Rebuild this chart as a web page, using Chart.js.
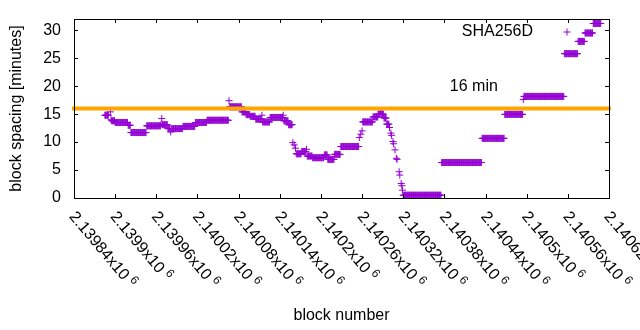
<!DOCTYPE html>
<html>
<head>
<meta charset="utf-8">
<script src="https://cdn.jsdelivr.net/npm/chart.js@4/dist/chart.umd.min.js"></script>
<style>
  html, body { margin: 0; padding: 0; background: #fff; }
  #spacing_chart { display: block; }
</style>
</head>
<body>
<canvas id="spacing_chart" width="640" height="330"></canvas>
<script>
// x range and ticks (block heights)
var block_min = 2139840;
var block_max = 2140620;
var block_tick_step = 60;

// y range and ticks (minutes)
var minutes_min = 0;
var minutes_max = 32;
var minutes_tick_step = 5;

var series_name = "SHA256D";

// runs of blocks: first block, last block, spacing in minutes
var run_first = [
    2139885, 2139893, 2139894, 2139895, 2139900, 2139919, 2139923, 2139946, 2139967, 2139968,
    2139969, 2139977, 2139981, 2139982, 2139999, 2140017, 2140034, 2140066, 2140067, 2140085,
    2140091, 2140097, 2140105, 2140114, 2140115, 2140126, 2140145, 2140146, 2140153, 2140159,
    2140161, 2140163, 2140164, 2140172, 2140179, 2140180, 2140188, 2140205, 2140210, 2140220,
    2140229, 2140256, 2140258, 2140260, 2140261, 2140276, 2140284, 2140287, 2140288, 2140292,
    2140296, 2140300, 2140302, 2140303, 2140305, 2140306, 2140308, 2140310, 2140311, 2140314,
    2140315, 2140317, 2140318, 2140319, 2140320, 2140376, 2140435, 2140468, 2140495, 2140496,
    2140555, 2140575, 2140585, 2140597
];
var run_last = [
    2139890, 2139893, 2139894, 2139899, 2139918, 2139922, 2139945, 2139966, 2139967, 2139968,
    2139976, 2139980, 2139981, 2139998, 2140016, 2140033, 2140065, 2140066, 2140084, 2140090,
    2140096, 2140104, 2140113, 2140114, 2140125, 2140144, 2140145, 2140152, 2140158, 2140159,
    2140161, 2140163, 2140171, 2140178, 2140179, 2140187, 2140204, 2140209, 2140219, 2140228,
    2140255, 2140256, 2140258, 2140260, 2140275, 2140283, 2140286, 2140287, 2140291, 2140295,
    2140299, 2140300, 2140302, 2140303, 2140305, 2140306, 2140308, 2140310, 2140311, 2140314,
    2140315, 2140317, 2140318, 2140319, 2140375, 2140434, 2140467, 2140494, 2140495, 2140554,
    2140574, 2140584, 2140596, 2140608
];
var run_minutes = [
    14.8, 15.4, 14.0, 13.8, 13.5, 13.0, 11.7, 12.9, 13.2, 14.2,
    13.1, 12.4, 11.8, 12.4, 12.8, 13.5, 13.9, 17.4, 16.3, 15.4,
    14.9, 14.6, 14.1, 14.8, 13.6, 14.4, 14.8, 13.8, 13.1, 9.9,
    9.5, 8.9, 7.9, 8.3, 8.7, 7.5, 7.2, 7.7, 6.9, 7.8,
    9.2, 10.8, 11.4, 12.0, 13.6, 14.5, 15.0, 15.4, 15.0, 14.3,
    13.2, 12.6, 11.6, 11.2, 10.1, 9.7, 8.6, 7.1, 6.9, 4.7,
    4.1, 2.6, 2.2, 1.4, 0.5, 6.34, 10.66, 14.95, 17.6, 18.16,
    25.8, 28.0, 29.5, 31.2
];

// 16 minute target line and its label
var target_minutes = 16;
var target_text = "16 min";
var target_text_block = 2140388;
var target_text_minutes = 20;

var purple = "#9400D3";
var orange = "#FFA500";
var font_family = '"Liberation Sans", Arial, sans-serif';

var chart_points = [];

function buildSpacingData() {
    for (var i = 0; i < run_first.length; i++) {
        for (var b = run_first[i]; b <= run_last[i]; b++) {
            chart_points.push({ x: b, y: run_minutes[i] });
        }
    }
}

function tickMantissa(v) {
    return Number((v / 1e6).toFixed(5)).toString();
}

// gnuplot look: closed frame, inward ticks on all sides, slanted x labels, key and label
var gnuplotLook = {
    id: 'gnuplotLook',
    afterDraw: function (chart) {
        var ctx = chart.ctx;
        var area = chart.chartArea;
        var xs = chart.scales.x;
        var ys = chart.scales.y;
        var tl = 4;

        ctx.save();
        ctx.strokeStyle = "#000";
        ctx.lineWidth = 1;
        ctx.beginPath();
        for (var i = 0; i < xs.ticks.length; i++) {
            var px = Math.round(xs.getPixelForValue(xs.ticks[i].value)) + 0.5;
            ctx.moveTo(px, area.bottom); ctx.lineTo(px, area.bottom - tl);
            ctx.moveTo(px, area.top); ctx.lineTo(px, area.top + tl);
        }
        for (var j = 0; j < ys.ticks.length; j++) {
            var py = Math.round(ys.getPixelForValue(ys.ticks[j].value)) + 0.5;
            ctx.moveTo(area.left, py); ctx.lineTo(area.left + tl, py);
            ctx.moveTo(area.right, py); ctx.lineTo(area.right - tl, py);
        }
        ctx.stroke();
        ctx.strokeRect(Math.round(area.left) + 0.5, Math.round(area.top) + 0.5,
            Math.round(area.right - area.left), Math.round(area.bottom - area.top));

        // slanted x tick labels with power of ten
        ctx.fillStyle = "#000";
        ctx.textAlign = "left";
        ctx.textBaseline = "middle";
        for (var k = 0; k < xs.ticks.length; k++) {
            var tx = xs.getPixelForValue(xs.ticks[k].value);
            var txt = tickMantissa(xs.ticks[k].value) + "x10";
            ctx.save();
            ctx.translate(tx - 2, area.bottom + 16);
            ctx.rotate(50 * Math.PI / 180);
            ctx.font = "16px " + font_family;
            ctx.fillText(txt, 0, 0);
            var w = ctx.measureText(txt).width;
            ctx.font = "12px " + font_family;
            ctx.fillText("6", w + 4, -5);
            ctx.restore();
        }

        // key: name then a sample point
        ctx.font = "16px " + font_family;
        ctx.textAlign = "right";
        ctx.fillText(series_name, area.right - 76, area.top + 13);
        var kx = area.right - 42, ky = area.top + 13;
        ctx.strokeStyle = purple;
        ctx.beginPath();
        ctx.moveTo(kx - 3.5, ky); ctx.lineTo(kx + 3.5, ky);
        ctx.moveTo(kx, ky - 3.5); ctx.lineTo(kx, ky + 3.5);
        ctx.stroke();

        // label for the target line
        ctx.textAlign = "left";
        ctx.fillText(target_text, xs.getPixelForValue(target_text_block), ys.getPixelForValue(target_text_minutes));
        ctx.restore();
    }
};

function buildSpacingChart() {
    Chart.defaults.font.family = font_family;
    Chart.defaults.font.size = 16;
    Chart.defaults.color = "#000";

    var sc = document.getElementById('spacing_chart');
    var spacingChart = new Chart(sc, {
        type: 'scatter',
        data: {
            datasets: [{
                type: 'line',
                label: target_text,
                data: [{ x: block_min, y: target_minutes }, { x: block_max, y: target_minutes }],
                borderColor: orange,
                borderWidth: 4,
                borderCapStyle: 'square',
                pointRadius: 0,
                fill: false,
                clip: false,
                order: 0
            }, {
                label: series_name,
                data: chart_points,
                pointStyle: 'cross',
                pointRadius: 3.5,
                borderWidth: 1,
                borderColor: purple,
                backgroundColor: purple,
                order: 1
            }]
        },
        options: {
            responsive: false,
            animation: false,
            devicePixelRatio: 1,
            layout: { padding: { top: 19, right: 31, left: 0, bottom: 0 } },
            plugins: {
                legend: { display: false },
                tooltip: { enabled: false }
            },
            scales: {
                x: {
                    type: 'linear',
                    position: 'bottom',
                    min: block_min,
                    max: block_max,
                    ticks: { stepSize: block_tick_step, display: false },
                    grid: { display: false, drawTicks: false },
                    border: { display: false },
                    title: { display: true, text: 'block number', padding: { top: 0, bottom: 5 } },
                    afterFit: function (s) { s.height = 132; }
                },
                y: {
                    min: minutes_min,
                    max: minutes_max,
                    ticks: { stepSize: minutes_tick_step, padding: 0, includeBounds: false },
                    afterBuildTicks: function (s) {
                        s.ticks = s.ticks.filter(function (t) { return t.value % minutes_tick_step === 0; });
                    },
                    grid: { display: false, drawTicks: true, tickLength: 13 },
                    border: { display: false },
                    title: { display: true, text: 'block spacing [minutes]', padding: { top: 7, bottom: 0 } },
                    afterFit: function (s) { s.width = 74; }
                }
            }
        },
        plugins: [gnuplotLook]
    });
}

buildSpacingData();
buildSpacingChart();
</script>
</body>
</html>
